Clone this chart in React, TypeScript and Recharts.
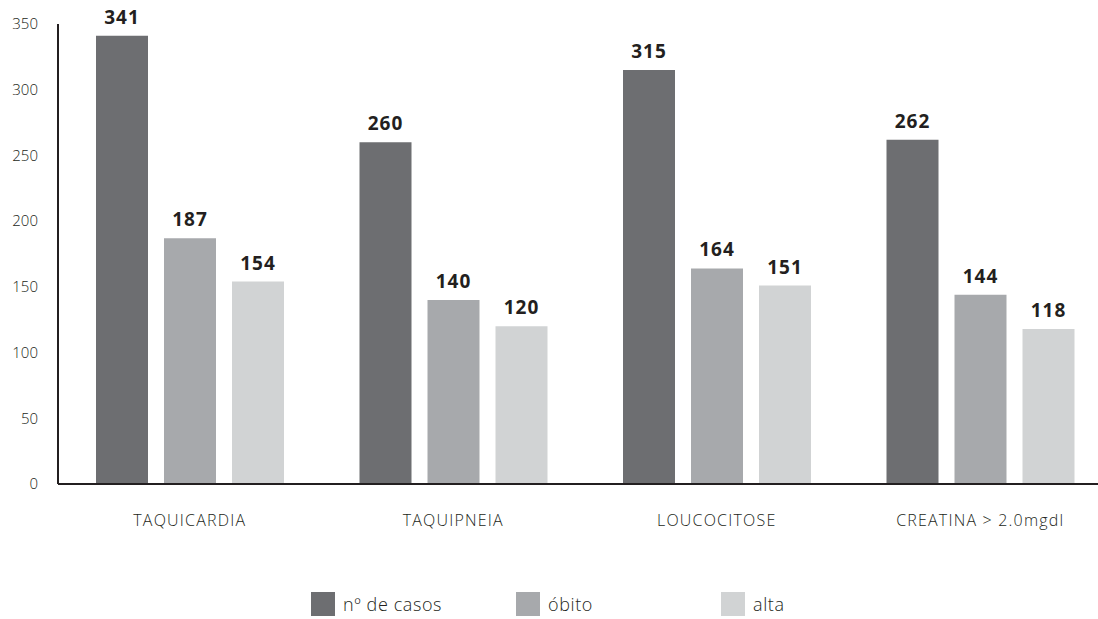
import React from 'react';
import { BarChart, Bar, XAxis, YAxis, LabelList } from 'recharts';

const categories = ['TAQUICARDIA', 'TAQUIPNEIA', 'LOUCOCITOSE', 'CREATINA > 2.0mgdl'];
const casos = [341, 260, 315, 262];
const obito = [187, 140, 164, 144];
const alta = [154, 120, 151, 118];
const yTicks = [0, 50, 100, 150, 200, 250, 300, 350];

const SERIES = [
  { key: 'casos', name: 'nº de casos', color: '#6d6e71' },
  { key: 'obito', name: 'óbito', color: '#a7a9ac' },
  { key: 'alta', name: 'alta', color: '#d1d3d4' },
];

const FONT = '"Open Sans", "Noto Sans", sans-serif';

const data = categories.map((name, i) => ({ name, casos: casos[i], obito: obito[i], alta: alta[i] }));

export default function App() {
  return (
    <div style={{ position: 'absolute', left: 0, top: 0, width: 1098, height: 619, overflow: 'hidden', background: '#fff', fontFamily: FONT }}>
      <BarChart
        width={1112}
        height={560}
        data={data}
        margin={{ top: 24, right: 0, bottom: 0, left: 0 }}
        barSize={52}
        barGap={16}
      >
        <XAxis
          dataKey="name"
          axisLine={{ stroke: '#231f20', strokeWidth: 2 }}
          tickLine={false}
          tickMargin={25}
          height={76}
          interval={0}
          tick={{ fill: '#231f20', fontSize: 16, fontWeight: 300, letterSpacing: 1.2, fontFamily: FONT }}
        />
        <YAxis
          domain={[0, 350]}
          ticks={yTicks}
          width={58}
          axisLine={{ stroke: '#231f20', strokeWidth: 2 }}
          tickLine={false}
          tickSize={0}
          tickMargin={20}
          tick={{ fill: '#231f20', fontSize: 15, fontWeight: 300, fontFamily: FONT }}
        />
        {SERIES.map((s) => (
          <Bar key={s.key} dataKey={s.key} name={s.name} fill={s.color} isAnimationActive={false}>
            <LabelList
              dataKey={s.key}
              position="top"
              offset={12}
              fill="#231f20"
              fontSize={19}
              fontWeight={700}
              letterSpacing={1}
              fontFamily={FONT}
            />
          </Bar>
        ))}
      </BarChart>

      {/* legend */}
      <div style={{ position: 'absolute', top: 592, left: 311, display: 'flex' }}>
        {SERIES.map((s) => (
          <div key={s.key} style={{ width: 205, display: 'flex', alignItems: 'center', gap: 8 }}>
            <span style={{ width: 24, height: 24, background: s.color, display: 'inline-block' }} />
            <span style={{ fontSize: 18, fontWeight: 300, letterSpacing: 0.6, color: '#231f20' }}>{s.name}</span>
          </div>
        ))}
      </div>
    </div>
  );
}
